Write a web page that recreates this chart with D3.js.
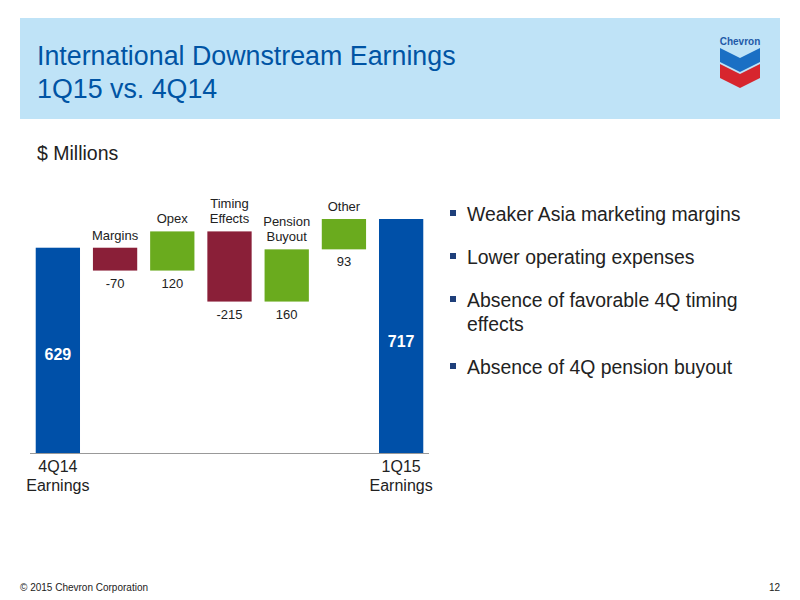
<!DOCTYPE html>
<html><head><meta charset="utf-8">
<script src="https://cdn.jsdelivr.net/npm/d3@7/dist/d3.min.js"></script>
<style>body{margin:0;background:#fff}svg{font-family:"Liberation Sans",Arial,sans-serif}</style>
</head><body><svg id="c" width="800" height="600"></svg>
<script>
const categories = ["4Q14 Earnings","Margins","Opex","Timing Effects","Pension Buyout","Other","1Q15 Earnings"];
const labels = [["4Q14","Earnings"],["Margins"],["Opex"],["Timing","Effects"],["Pension","Buyout"],["Other"],["1Q15","Earnings"]];
const values = [629,-70,120,-215,160,93,717];
const types = ["total","neg","pos","neg","pos","pos","total"];
const bullets = [["Weaker Asia marketing margins"],["Lower operating expenses"],["Absence of favorable 4Q timing","effects"],["Absence of 4Q pension buyout"]];

const svg = d3.select("#c");
svg.append("rect").attr("x",20).attr("y",18).attr("width",760).attr("height",101).attr("fill","#bfe3f7");
svg.append("text").attr("x",37).attr("y",65).attr("font-size",26.8).attr("fill","#0054a4").text("International Downstream Earnings");
svg.append("text").attr("x",37).attr("y",98).attr("font-size",26.8).attr("fill","#0054a4").text("1Q15 vs. 4Q14");
svg.append("text").attr("x",740).attr("y",45).attr("font-size",10).attr("font-weight","bold").attr("fill","#1f5aa8").attr("text-anchor","middle").text("Chevron");
svg.append("path").attr("d","M720,48 L740,58 L760,48 L760,62 L740,72 L720,62Z").attr("fill","#1a6fc4");
svg.append("path").attr("d","M720,64 L740,74 L760,64 L760,78 L740,88 L720,78Z").attr("fill","#d7262e");
svg.append("text").attr("x",37).attr("y",160).attr("font-size",19.5).attr("fill","#222").text("$ Millions");

const x = d3.scaleBand().domain(categories).range([30,429]).paddingInner(0.226).paddingOuter(0.1);
const y = d3.scaleLinear().domain([0,717]).range([453,219]);
let run=0; const bars=[];
values.forEach((v,i)=>{
  let a,b;
  if(types[i]==="total"){a=0;b=v;run=v;} else {a=run;b=run+v;run=b;}
  bars.push({i,v,a,b,t:types[i]});
});
const col={total:"#0050a8",neg:"#8a1f38",pos:"#6aab1e"};
const g=svg.append("g");
bars.forEach(d=>{
  const c=categories[d.i], top=y(Math.max(d.a,d.b)), bot=y(Math.min(d.a,d.b));
  g.append("rect").attr("x",x(c)).attr("y",top).attr("width",x.bandwidth()).attr("height",bot-top).attr("fill",col[d.t]);
  const cx=x(c)+x.bandwidth()/2;
  if(d.t==="total"){
    g.append("text").attr("x",cx).attr("y",d.i===0?360:347).attr("text-anchor","middle").attr("font-size",16).attr("font-weight","bold").attr("fill","#fff").text(d.v);
    labels[d.i].forEach((l,k)=>g.append("text").attr("x",cx).attr("y",472+k*19).attr("text-anchor","middle").attr("font-size",16).attr("fill","#222").text(l));
  } else {
    g.append("text").attr("x",cx).attr("y",bot+17).attr("text-anchor","middle").attr("font-size",13).attr("fill","#222").text(d.v);
    const L=labels[d.i];
    L.forEach((l,k)=>g.append("text").attr("x",cx).attr("y",top-8-(L.length-1-k)*15).attr("text-anchor","middle").attr("font-size",13).attr("fill","#222").text(l));
  }
});
g.append("line").attr("x1",30).attr("x2",429).attr("y1",453.5).attr("y2",453.5).attr("stroke","#999");
let by=221;
bullets.forEach(b=>{
  svg.append("rect").attr("x",450).attr("y",by-11).attr("width",6).attr("height",6).attr("fill","#1f3f7a");
  b.forEach((l,k)=>svg.append("text").attr("x",467).attr("y",by+k*24).attr("font-size",19.4).attr("fill","#222").text(l));
  by+=b.length*24+19;
});
svg.append("text").attr("x",20).attr("y",591).attr("font-size",10).attr("fill","#222").text("© 2015 Chevron Corporation");
svg.append("text").attr("x",780).attr("y",591).attr("font-size",10).attr("fill","#222").attr("text-anchor","end").text("12");
</script></body></html>
